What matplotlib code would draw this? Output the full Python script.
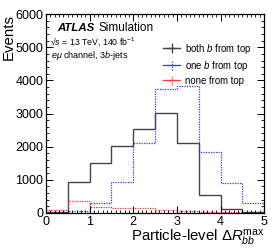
import matplotlib

matplotlib.use("Agg")
import matplotlib.pyplot as plt
import numpy as np
from matplotlib.ticker import MultipleLocator

plt.rcParams["font.family"] = ["Liberation Sans", "DejaVu Sans"]
plt.rcParams["mathtext.fontset"] = "custom"
plt.rcParams["mathtext.rm"] = "Liberation Sans"
plt.rcParams["mathtext.it"] = "Liberation Sans:italic"

bin_edges = [0, 0.5, 1.0, 1.5, 2.0, 2.5, 3.0, 3.5, 4.0, 4.5, 5.0]
both_b = [40, 940, 1500, 2020, 2520, 3020, 2100, 540, 120, 20]
one_b = [10, 70, 290, 920, 2100, 3750, 3820, 1830, 890, 310]
none_b = [80, 360, 190, 140, 140, 90, 60, 40, 20, 10]

fig = plt.figure(figsize=(2.74, 2.52), dpi=100)
ax = fig.add_axes([0.168, 0.155, 0.796, 0.789])

edges = np.array(bin_edges)
ax.stairs(both_b, edges, color="#444444", linewidth=1.0)
ax.stairs(one_b, edges, color="#3333ff", linewidth=0.9, linestyle=(0, (1, 1)))
ax.stairs(none_b, edges, color="#ff3333", linewidth=0.9, linestyle=(0, (1, 1)))

# legend proxies drawn as error-bar style markers
h1 = ax.errorbar([], [], xerr=[], yerr=[], color="#444444", linewidth=1.0)
h2 = ax.errorbar([], [], xerr=[], yerr=[], color="#3333ff", linewidth=0.9)
h3 = ax.errorbar([], [], xerr=[], yerr=[], color="#ff3333", linewidth=0.9)
for h in (h2, h3):
    for lc in h[2]:
        lc.set_linestyle((0, (1, 1)))
leg = ax.legend([h1, h2, h3],
                ["both $b$ from top", "one $b$ from top", "none from top"],
                loc="upper left", bbox_to_anchor=(0.537, 0.862), frameon=False,
                borderaxespad=0, borderpad=0,
                fontsize=6.9, handlelength=1.75, handletextpad=0.5, labelspacing=0.32)

ax.set_xlim(0, 5)
ax.set_ylim(0, 6000)
ax.xaxis.set_major_locator(MultipleLocator(1))
ax.xaxis.set_minor_locator(MultipleLocator(0.1))
ax.yaxis.set_major_locator(MultipleLocator(1000))
ax.yaxis.set_minor_locator(MultipleLocator(200))
ax.tick_params(which="both", direction="in", top=True, right=True, labelsize=9, pad=2)
ax.tick_params(which="major", length=5, width=0.7)
ax.tick_params(which="minor", length=2.5, width=0.6)
for sp in ax.spines.values():
    sp.set_linewidth(0.9)

ax.set_ylabel("Events", fontsize=10.8, loc="top", labelpad=0)
ax.set_xlabel(r"Particle-level $\Delta R_{bb}^{\mathrm{max}}$", fontsize=10.8, loc="right", labelpad=0)

ax.text(0.05, 0.93, "ATLAS", transform=ax.transAxes, fontsize=8.2,
        fontweight="bold", fontstyle="italic", va="center")
ax.text(0.239, 0.93, "Simulation", transform=ax.transAxes, fontsize=8.5, va="center")
ax.text(0.02, 0.86, "√$s$ = 13 TeV, 140 fb$^{-1}$", transform=ax.transAxes,
        fontsize=6.3, va="center")
ax.text(0.023, 0.794, r"$e\mu$ channel, 3$b$-jets", transform=ax.transAxes,
        fontsize=6.5, va="center")

fig.savefig("out.png", dpi=100)
